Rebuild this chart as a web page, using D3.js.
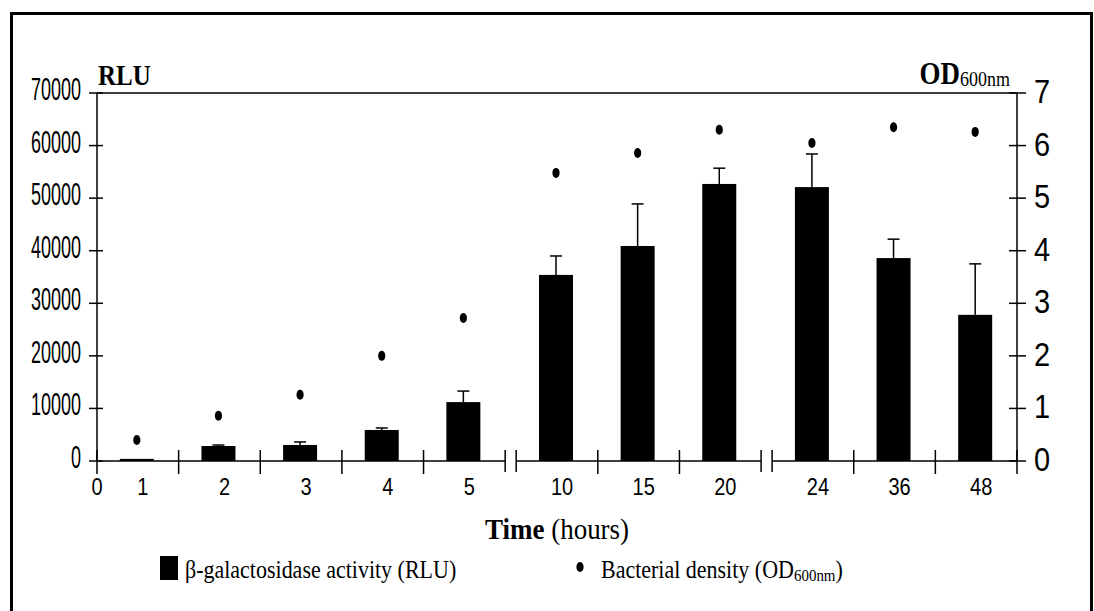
<!DOCTYPE html>
<html>
<head>
<meta charset="utf-8">
<script src="https://cdnjs.cloudflare.com/ajax/libs/d3/7.8.5/d3.min.js"></script>
<style>
body { margin:0; background:#fff; }
svg text { fill:#000; }
.num { font-family:"Liberation Sans", Arial, sans-serif; }
.serif { font-family:"Liberation Serif", "Times New Roman", serif; }
</style>
</head>
<body>
<div id="chart"></div>
<script>
// time points (hours), split in 3 groups by the axis breaks
var hours = ['1','2','3','4','5','10','15','20','24','36','48'];
var hourGroups = [['1','2','3','4','5'],['10','15','20'],['24','36','48']];
// beta-galactosidase activity (RLU), mean and upper error
var rluMean = [400, 2850, 3050, 5900, 11200, 35400, 40900, 52700, 52100, 38600, 27800];
var rluErr = [0, 190, 570, 380, 2100, 3600, 8000, 3000, 6300, 3600, 9700];
// bacterial density
var od600 = [0.40, 0.86, 1.26, 2.00, 2.72, 5.48, 5.86, 6.30, 6.05, 6.35, 6.26];
var rluTicks = [0, 10000, 20000, 30000, 40000, 50000, 60000, 70000];
var odTicks = [0, 1, 2, 3, 4, 5, 6, 7];

var width = 1094, height = 611;
var plot = {left:97, right:1017, top:93, bottom:461};
var breakGap = 11;

var svg = d3.select('#chart').append('svg')
  .attr('width', width)
  .attr('height', height);

//outer frame, bottom runs off the picture
svg.append('rect')
  .attr('x', 11.5).attr('y', 13.5)
  .attr('width', 1080).attr('height', 640)
  .attr('fill', 'none').attr('stroke', '#000').attr('stroke-width', 3);

var yL = d3.scaleLinear().domain([0, 70000]).range([plot.bottom, plot.top]);
var yR = d3.scaleLinear().domain([0, 7]).range([plot.bottom, plot.top]);

//one band scale per group so the breaks can sit between them
var bandW = (plot.right - plot.left - 2*breakGap)/hours.length;
var xScales = [];
var start = plot.left;
hourGroups.forEach(function (grp) {
  var end = start + grp.length*bandW;
  xScales.push(d3.scaleBand().domain(grp).range([start, end]).padding(0));
  start = end + breakGap;
});
function xBand(h) {
  for (var i = 0; i < xScales.length; i++) {
    if (xScales[i].domain().indexOf(h) >= 0) return xScales[i];
  }
}

//text that is stretched vertically like the original
function stretched(g, x, y, sy) {
  return g.append('text').attr('transform', 'translate(' + x + ',' + y + ') scale(1,' + sy + ')');
}

var axisG = svg.append('g').attr('stroke', '#000').attr('stroke-width', 1.5);

//left and right axis lines and top line
axisG.append('line').attr('x1', plot.left).attr('x2', plot.left).attr('y1', plot.top).attr('y2', plot.bottom);
axisG.append('line').attr('x1', plot.right).attr('x2', plot.right).attr('y1', plot.top).attr('y2', plot.bottom);
axisG.append('line').attr('x1', plot.left).attr('x2', plot.right).attr('y1', plot.top).attr('y2', plot.top);

//y ticks cross the axis lines
rluTicks.forEach(function (t) {
  axisG.append('line').attr('x1', plot.left - 8).attr('x2', plot.left + 6).attr('y1', yL(t)).attr('y2', yL(t));
  stretched(svg, plot.left - 16, yL(t) + 7, 1.7)
    .attr('class', 'num').attr('font-size', 18).attr('text-anchor', 'end').text(t);
});
odTicks.forEach(function (t) {
  axisG.append('line').attr('x1', plot.right - 8).attr('x2', plot.right + 9).attr('y1', yR(t)).attr('y2', yR(t));
  stretched(svg, plot.right + 17, yR(t) + 10, 1.15)
    .attr('class', 'num').attr('font-size', 29).attr('text-anchor', 'start').text(t);
});

//x axis in segments with break marks
xScales.forEach(function (xs, gi) {
  var r = xs.range();
  axisG.append('line').attr('x1', r[0]).attr('x2', r[1]).attr('y1', plot.bottom).attr('y2', plot.bottom);
  var edges = xs.domain().map(function (d) { return xs(d); }).concat([r[1]]);
  edges.forEach(function (e, i) {
    var isBreak = (i === 0 && gi > 0) || (i === edges.length - 1 && gi < xScales.length - 1);
    axisG.append('line')
      .attr('x1', e).attr('x2', e)
      .attr('y1', plot.bottom - 11)
      .attr('y2', plot.bottom + (isBreak ? 11 : 13));
  });
});

//x labels
stretched(svg, plot.left, 495, 1.15)
  .attr('class', 'num').attr('font-size', 20).attr('text-anchor', 'middle').text('0');
hours.forEach(function (h) {
  var xs = xBand(h);
  stretched(svg, xs(h) + xs.bandwidth()/2 + 5, 495, 1.15)
    .attr('class', 'num').attr('font-size', 20).attr('text-anchor', 'middle').text(h);
});

//bars with upper error bars
var barW = 34;
hours.forEach(function (h, i) {
  var xs = xBand(h);
  var cx = xs(h) + xs.bandwidth()/2 - 1;
  svg.append('rect')
    .attr('x', cx - barW/2).attr('y', yL(rluMean[i]))
    .attr('width', barW).attr('height', yL(0) - yL(rluMean[i]))
    .attr('fill', '#000');
  if (rluErr[i] > 0) {
    var yTop = yL(rluMean[i] + rluErr[i]);
    svg.append('line').attr('x1', cx).attr('x2', cx).attr('y1', yL(rluMean[i])).attr('y2', yTop)
      .attr('stroke', '#000').attr('stroke-width', 1.5);
    svg.append('line').attr('x1', cx - 6).attr('x2', cx + 6).attr('y1', yTop).attr('y2', yTop)
      .attr('stroke', '#000').attr('stroke-width', 1.5);
  }
  //od dot
  svg.append('ellipse')
    .attr('cx', cx).attr('cy', yR(od600[i]))
    .attr('rx', 3.6).attr('ry', 5)
    .attr('fill', '#000');
});

//axis titles
stretched(svg, 98, 85, 1.2)
  .attr('class', 'serif').attr('font-size', 25).attr('font-weight', 'bold').text('RLU');
var odTitle = stretched(svg, 1010, 84, 1.15)
  .attr('class', 'serif').attr('text-anchor', 'end');
odTitle.append('tspan').attr('font-size', 27).attr('font-weight', 'bold').text('OD');
odTitle.append('tspan').attr('font-size', 18).attr('dy', 2).text('600nm');

var timeTitle = stretched(svg, (plot.left + plot.right)/2, 539, 1.1)
  .attr('class', 'serif').attr('font-size', 27).attr('text-anchor', 'middle');
timeTitle.append('tspan').attr('font-weight', 'bold').text('Time');
timeTitle.append('tspan').text(' (hours)');

//legend
var legend = svg.append('g');
legend.append('rect').attr('x', 160).attr('y', 556).attr('width', 18).attr('height', 24).attr('fill', '#000');
stretched(legend, 185, 578, 1.15)
  .attr('class', 'serif').attr('font-size', 22).text('\u03b2-galactosidase activity (RLU)');
legend.append('ellipse').attr('cx', 580).attr('cy', 567).attr('rx', 3.6).attr('ry', 5).attr('fill', '#000');
var legText = stretched(legend, 601, 578, 1.15)
  .attr('class', 'serif').attr('font-size', 22);
legText.append('tspan').text('Bacterial density (OD');
legText.append('tspan').attr('font-size', 15).attr('dy', 3).text('600nm');
legText.append('tspan').attr('dy', -3).text(')');
</script>
</body>
</html>
